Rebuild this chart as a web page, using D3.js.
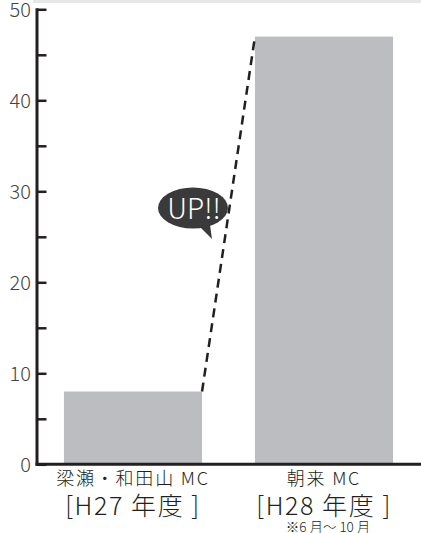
<!DOCTYPE html>
<html><head><meta charset="utf-8">
<script src="https://cdn.jsdelivr.net/npm/d3@7"></script>
<style>body{margin:0;background:#fff}svg{display:block}</style>
</head><body>
<script>
const categories = ["梁瀬・和田山 MC", "朝来 MC"];
const years = ["[H27 年度 ]", "[H28 年度 ]"];
const notes = ["", "※6 月〜 10 月"];
const values = [8, 47];
const majorTicks = [0, 10, 20, 30, 40, 50];
const minorTicks = [5, 15, 25, 35, 45];

const W = 421, H = 533;
const svg = d3.select("body").append("svg").attr("width", W).attr("height", H);
const font = "'Noto Sans CJK JP','Noto Sans',sans-serif";
const x0 = 37, x1 = 421, yTop = 9.3, yBot = 464.3;
const y = d3.scaleLinear().domain([0, 50]).range([yBot, yTop]);
const x = d3.scaleBand().domain(categories).range([37, 420]).paddingInner(0.277).paddingOuter(0.141);

svg.append("rect").attr("x", 33).attr("y", 0).attr("width", W - 33).attr("height", 3).attr("fill", "#e6e7e8");

// bars
svg.selectAll("rect.bar").data(values).join("rect").attr("class", "bar")
  .attr("x", (d, i) => x(categories[i])).attr("width", x.bandwidth())
  .attr("y", d => y(d)).attr("height", d => yBot - y(d)).attr("fill", "#bcbdc0");

// axes
const ax = svg.append("g").attr("transform", `translate(${x0},0)`);
ax.call(d3.axisRight(y).tickValues(majorTicks.concat(minorTicks)).tickSize(9.5).tickFormat(""));
ax.select(".domain").remove();
ax.selectAll(".tick line").attr("stroke", "#231f20").attr("stroke-width", 2.5);
svg.append("line").attr("x1", x0).attr("x2", x0).attr("y1", yTop - 1).attr("y2", yBot + 1.5).attr("stroke", "#231f20").attr("stroke-width", 3);
svg.append("line").attr("x1", x0 - 1.5).attr("x2", x1).attr("y1", yBot).attr("y2", yBot).attr("stroke", "#231f20").attr("stroke-width", 3);

svg.selectAll("text.tl").data(majorTicks).join("text").attr("class", "tl")
  .attr("x", 31).attr("y", d => y(d)).attr("dy", "0.36em").attr("text-anchor", "end")
  .attr("font-family", font).attr("font-weight", 300).attr("font-size", 20).attr("fill", "#444").text(d => d);

// dashed line
const xa = x(categories[0]) + x.bandwidth(), xb = x(categories[1]);
svg.append("line").attr("x1", xa).attr("y1", y(values[0])).attr("x2", xb).attr("y2", y(values[1]))
  .attr("stroke", "#231f20").attr("stroke-width", 2.5).attr("stroke-dasharray", "9,6");

// bubble
const bx = 193, by = 208;
svg.append("path").attr("d", `M${bx+2},${by+14} L${bx+19},${by+31} L${bx+16},${by+10} Z`).attr("fill", "#3a3a3a");
svg.append("ellipse").attr("cx", bx).attr("cy", by).attr("rx", 35).attr("ry", 20.5).attr("fill", "#3a3a3a");
svg.append("text").attr("x", bx + 1).attr("y", by + 10.5).attr("text-anchor", "middle")
  .attr("font-family", font).attr("font-weight", 300).attr("font-size", 28).attr("fill", "#fff").text("UP!!");

// labels
categories.forEach((c, i) => {
  const cx = x(c) + x.bandwidth() / 2;
  svg.append("text").attr("x", cx).attr("y", 485).attr("text-anchor", "middle")
    .attr("font-family", font).attr("font-weight", 300).attr("font-size", 18).attr("letter-spacing", 1.8)
    .attr("fill", "#231f20").text(c);
  svg.append("text").attr("x", cx).attr("y", 515).attr("text-anchor", "middle")
    .attr("font-family", font).attr("font-weight", 300).attr("font-size", 25).attr("letter-spacing", 1.6)
    .attr("fill", "#231f20").text(years[i]);
  if (notes[i]) svg.append("text").attr("x", cx + 4).attr("y", 532).attr("text-anchor", "middle")
    .attr("font-family", font).attr("font-weight", 300).attr("font-size", 13.5).attr("fill", "#231f20").text(notes[i]);
});
</script>
</body></html>
